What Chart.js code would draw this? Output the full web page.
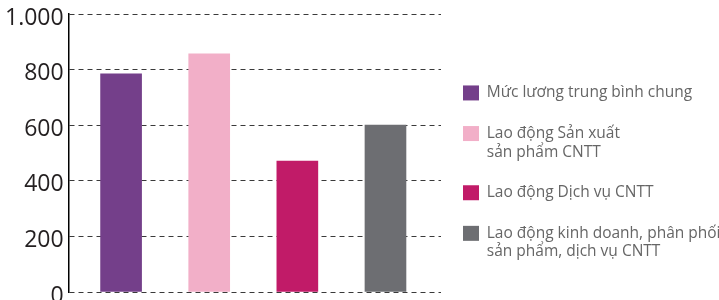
<!DOCTYPE html>
<html lang="vi">
<head>
<meta charset="utf-8">
<title>Mức lương lao động CNTT</title>
<script src="https://cdn.jsdelivr.net/npm/chart.js@4.4.1/dist/chart.umd.min.js"></script>
<style>
  html, body { margin: 0; padding: 0; background: #ffffff; }
  #wrap { position: relative; width: 719px; height: 300px; }
</style>
</head>
<body>
<div id="wrap"><canvas id="salary-chart"></canvas></div>
<script>
  'use strict';

  // Chart data.
  const categories = [
    'Mức lương trung bình chung',
    'Lao động Sản xuất sản phẩm CNTT',
    'Lao động Dịch vụ CNTT',
    'Lao động kinh doanh, phân phối sản phẩm, dịch vụ CNTT'
  ];
  const legendLines = [
    [ 'Mức lương trung bình chung' ],
    [ 'Lao động Sản xuất', 'sản phẩm CNTT' ],
    [ 'Lao động Dịch vụ CNTT' ],
    [ 'Lao động kinh doanh, phân phối', 'sản phẩm, dịch vụ CNTT' ]
  ];
  const salaries = [ 785, 857, 471, 600 ];
  const yTicks = [ 0, 200, 400, 600, 800, 1000 ];
  const barColors = [ '#743f8a', '#f2afc8', '#c11b68', '#6d6e72' ];

  const FONT = "'Open Sans', 'Noto Sans', sans-serif";

  function formatThousands( value ) {
    return String( value ).replace( /\B(?=(\d{3})+(?!\d))/g, '.' );
  }

  const ctx = document.getElementById( 'salary-chart' ).getContext( '2d' );

  new Chart( ctx, {
    type: 'bar',
    data: {
      labels: categories,
      datasets: [ {
        data: categories.map( ( c, i ) => ( { x: i, y: salaries[ i ] } ) ),
        backgroundColor: barColors,
        borderWidth: 0,
        barThickness: 41
      } ]
    },
    options: {
      responsive: true,
      maintainAspectRatio: false,
      animation: false,
      layout: {
        padding: { top: 14, right: 0, bottom: 0, left: 0 }
      },
      plugins: {
        tooltip: { enabled: false },
        legend: {
          display: true,
          position: 'right',
          align: 'center',
          maxWidth: 278,
          // Empty title only pushes the items down a little.
          title: {
            display: true,
            text: '',
            padding: 0,
            font: { size: 10, lineHeight: '34px' }
          },
          labels: {
            boxWidth: 16,
            boxHeight: 15,
            padding: 22,
            color: '#2b2b2b',
            font: { family: FONT, size: 15.5, lineHeight: 1.2 },
            generateLabels: function () {
              return legendLines.map( ( lines, i ) => ( {
                text: lines,
                fillStyle: barColors[ i ],
                strokeStyle: barColors[ i ],
                lineWidth: 0,
                hidden: false,
                index: i
              } ) );
            }
          }
        }
      },
      scales: {
        x: {
          type: 'linear',
          offset: false,
          min: -0.595,
          max: 3.63,
          display: false,
          grid: { display: false }
        },
        y: {
          min: 0,
          max: 1000,
          afterBuildTicks: function ( axis ) {
            axis.ticks = yTicks.map( ( v ) => ( { value: v } ) );
          },
          grid: {
            color: '#3a3a3a',
            lineWidth: 1,
            drawTicks: false
          },
          border: { display: true, color: '#000000', width: 1.5, dash: [ 5, 4 ] },
          ticks: {
            padding: 5,
            labelOffset: 4,
            color: '#231f20',
            // Small line height lets the "0" label hang off the bottom edge.
            font: { family: FONT, size: 23, lineHeight: '6px' },
            callback: function ( value ) {
              return formatThousands( value );
            }
          }
        }
      }
    }
  } );
</script>
</body>
</html>
